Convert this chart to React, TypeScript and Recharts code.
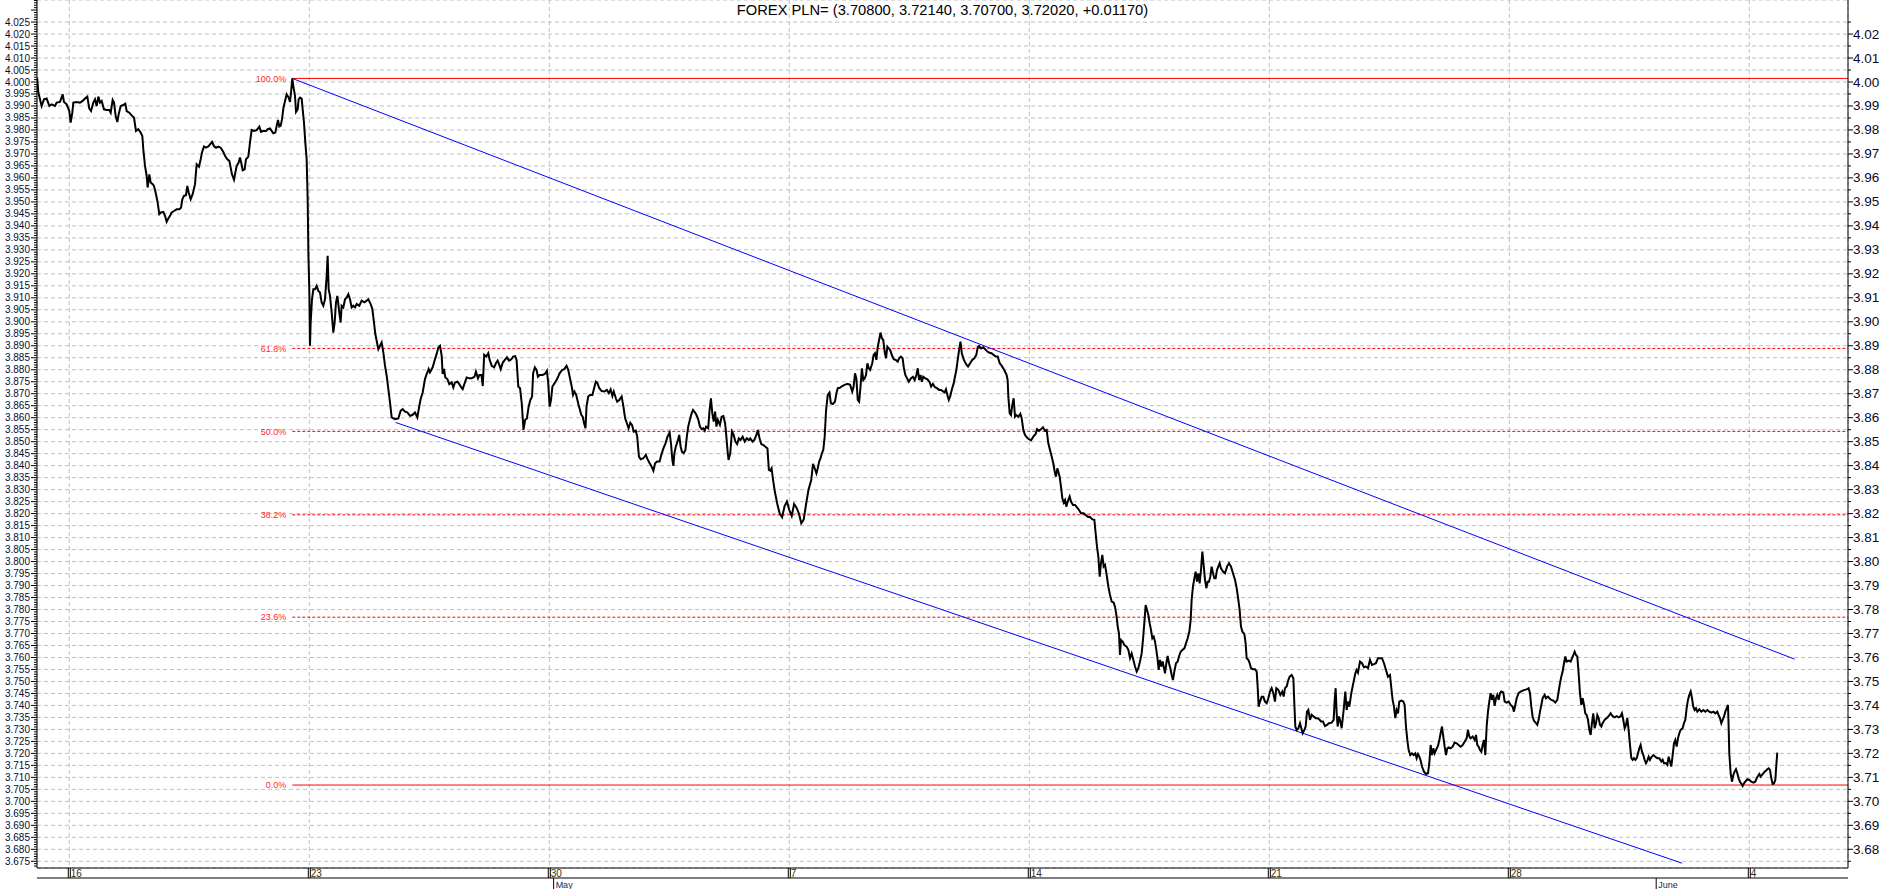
import { ComposedChart, Line, XAxis, YAxis, CartesianGrid, ReferenceLine } from 'recharts';

const FONT = '"Liberation Sans", Arial, Helvetica, sans-serif';

// x = trading days counted from the "16" gridline, y = USD/PLN
const weekApr13: [number, number][] = [
  [-0.67, 4.0018], [-0.645, 3.9956], [-0.576, 3.99], [-0.527, 3.9928], [-0.472, 3.9931], [-0.416, 3.99],
  [-0.368, 3.9907], [-0.298, 3.99], [-0.263, 3.9914], [-0.194, 3.9917], [-0.138, 3.9949], [-0.111, 3.9917],
  [-0.055, 3.9907],
];

const weekApr16: [number, number][] = [
  [0, 3.9879], [0.028, 3.9831], [0.063, 3.9872], [0.084, 3.9914], [0.153, 3.9917], [0.223, 3.9914],
  [0.278, 3.9921], [0.327, 3.9931], [0.375, 3.9939], [0.417, 3.9889], [0.452, 3.9879], [0.5, 3.9914],
  [0.535, 3.9928], [0.57, 3.99], [0.605, 3.9939], [0.639, 3.9914], [0.674, 3.9921], [0.723, 3.9886],
  [0.778, 3.9883], [0.834, 3.9883], [0.862, 3.9872], [0.903, 3.9925], [0.931, 3.9914], [0.966, 3.9858],
  [1.0, 3.9833], [1.028, 3.9865], [1.07, 3.99], [1.112, 3.9903], [1.167, 3.991], [1.195, 3.9879],
  [1.25, 3.9872], [1.299, 3.9861], [1.348, 3.9851], [1.389, 3.9796], [1.438, 3.9803], [1.487, 3.9789],
  [1.521, 3.9775], [1.542, 3.9719], [1.577, 3.965], [1.612, 3.9608], [1.632, 3.956], [1.667, 3.9615],
  [1.695, 3.9581], [1.737, 3.9574], [1.764, 3.9567], [1.806, 3.9532], [1.841, 3.9497], [1.875, 3.9449],
  [1.91, 3.9456], [1.959, 3.9458], [1.994, 3.9442], [2.028, 3.9417], [2.063, 3.9431], [2.098, 3.9442],
  [2.132, 3.9456], [2.181, 3.9462], [2.237, 3.9469], [2.292, 3.9469], [2.327, 3.9476], [2.355, 3.9511],
  [2.389, 3.9525], [2.431, 3.9528], [2.459, 3.9567], [2.487, 3.9539], [2.528, 3.9511], [2.57, 3.9532],
  [2.619, 3.9574], [2.653, 3.9657], [2.702, 3.9647], [2.737, 3.9678], [2.764, 3.9706], [2.806, 3.9731],
  [2.848, 3.9726], [2.896, 3.9731], [2.931, 3.974], [2.973, 3.975], [3.014, 3.9733], [3.056, 3.9726],
  [3.105, 3.9731], [3.153, 3.9726], [3.209, 3.9708], [3.244, 3.9692], [3.292, 3.9678], [3.334, 3.9671],
  [3.362, 3.9643], [3.389, 3.9615], [3.431, 3.9592], [3.459, 3.9622], [3.487, 3.965], [3.528, 3.9664],
  [3.556, 3.9685], [3.584, 3.9661], [3.612, 3.9632], [3.653, 3.9636], [3.681, 3.9678], [3.73, 3.9689],
  [3.764, 3.9747], [3.799, 3.98], [3.848, 3.9796], [3.903, 3.9799], [3.959, 3.9814], [3.994, 3.9792],
  [4.042, 3.9796], [4.098, 3.9796], [4.133, 3.9803], [4.181, 3.9806], [4.216, 3.9796], [4.25, 3.9786],
  [4.292, 3.9789], [4.32, 3.9817], [4.348, 3.9842], [4.375, 3.9814], [4.403, 3.9817], [4.431, 3.9844],
  [4.459, 3.9889], [4.494, 3.9921], [4.528, 3.9949], [4.57, 3.9935], [4.598, 3.9917], [4.619, 3.9956],
  [4.646, 4.0015], [4.667, 3.9983], [4.702, 3.9942], [4.723, 3.9875], [4.758, 3.9886], [4.778, 3.9928],
  [4.806, 3.9935], [4.841, 3.9931], [4.862, 3.9886], [4.889, 3.9831], [4.917, 3.9747], [4.945, 3.9678],
  [4.966, 3.9511], [4.98, 3.9289],
];

const weekApr23: [number, number][] = [
  [5.001, 3.9122], [5.014, 3.89], [5.028, 3.8997], [5.056, 3.9094], [5.084, 3.9136], [5.119, 3.9136],
  [5.153, 3.915], [5.188, 3.9129], [5.223, 3.9122], [5.257, 3.9081], [5.292, 3.9067], [5.327, 3.9094],
  [5.362, 3.9192], [5.382, 3.9275], [5.403, 3.9136], [5.431, 3.9108], [5.466, 3.9039], [5.5, 3.8955],
  [5.528, 3.8997], [5.556, 3.9081], [5.584, 3.9108], [5.625, 3.9039], [5.653, 3.8997], [5.674, 3.9067],
  [5.709, 3.906], [5.744, 3.9094], [5.778, 3.9101], [5.813, 3.9115], [5.848, 3.9094], [5.882, 3.906],
  [5.917, 3.9067], [5.952, 3.906], [5.987, 3.9074], [6.042, 3.9067], [6.091, 3.9088], [6.146, 3.9081],
  [6.195, 3.9088], [6.23, 3.9094], [6.278, 3.9074], [6.313, 3.9053], [6.348, 3.8997], [6.375, 3.8949],
  [6.403, 3.8921], [6.438, 3.8886], [6.473, 3.89], [6.507, 3.8914], [6.542, 3.8872], [6.577, 3.8817],
  [6.612, 3.8775], [6.646, 3.872], [6.681, 3.8664], [6.716, 3.8601], [6.785, 3.8594], [6.855, 3.8597],
  [6.903, 3.8629], [6.945, 3.8636], [6.994, 3.8625], [7.042, 3.8622], [7.098, 3.8608], [7.147, 3.8611],
  [7.202, 3.8622], [7.25, 3.8601], [7.292, 3.865], [7.32, 3.8678], [7.362, 3.8705], [7.41, 3.8761],
  [7.445, 3.8782], [7.487, 3.8803], [7.514, 3.8789], [7.57, 3.881], [7.619, 3.8845], [7.653, 3.8866],
  [7.688, 3.8893], [7.723, 3.89], [7.758, 3.8858], [7.778, 3.8782], [7.806, 3.8803], [7.834, 3.8768],
  [7.876, 3.8761], [7.917, 3.874], [7.966, 3.8747], [8.0, 3.8726], [8.035, 3.8747], [8.084, 3.875],
  [8.125, 3.874], [8.167, 3.8726], [8.195, 3.8719], [8.243, 3.8747], [8.278, 3.8768], [8.334, 3.8764],
  [8.385, 3.8764], [8.442, 3.8771], [8.471, 3.8792], [8.514, 3.8764], [8.542, 3.8778], [8.586, 3.8778],
  [8.614, 3.8732], [8.643, 3.8862], [8.686, 3.8855], [8.729, 3.8869], [8.758, 3.8841], [8.801, 3.8816],
  [8.851, 3.881], [8.887, 3.8827], [8.923, 3.8838], [8.959, 3.882], [8.988, 3.8802], [9.031, 3.883],
  [9.074, 3.8841], [9.117, 3.8852], [9.16, 3.8838], [9.21, 3.8844], [9.246, 3.8855], [9.289, 3.8857],
  [9.318, 3.8841], [9.354, 3.873], [9.39, 3.8723], [9.426, 3.866], [9.462, 3.8549], [9.497, 3.8591],
  [9.533, 3.8597], [9.569, 3.8646], [9.605, 3.8674], [9.641, 3.8688], [9.663, 3.8785], [9.698, 3.881],
  [9.734, 3.8799], [9.763, 3.8771], [9.799, 3.8778], [9.856, 3.8778], [9.907, 3.8782], [9.95, 3.8796],
  [9.978, 3.8743],
];

const weekApr30: [number, number][] = [
  [10.007, 3.8646], [10.036, 3.8674], [10.065, 3.873], [10.108, 3.8743], [10.158, 3.876], [10.215, 3.8785],
  [10.266, 3.8799], [10.309, 3.8802], [10.359, 3.8816], [10.395, 3.8799], [10.431, 3.8764], [10.467, 3.873],
  [10.495, 3.8695], [10.524, 3.8709], [10.56, 3.8695], [10.61, 3.8653], [10.668, 3.8611], [10.696, 3.8604],
  [10.725, 3.8577], [10.754, 3.8556], [10.775, 3.8646], [10.811, 3.8688], [10.847, 3.8695], [10.898, 3.8695],
  [10.933, 3.8723], [10.969, 3.875], [10.998, 3.8746], [11.041, 3.8723], [11.091, 3.8711], [11.149, 3.8709],
  [11.199, 3.8716], [11.242, 3.8702], [11.278, 3.8718], [11.314, 3.869], [11.343, 3.8709], [11.386, 3.8681],
  [11.414, 3.8667], [11.458, 3.8674], [11.508, 3.8688], [11.544, 3.8646], [11.58, 3.8597], [11.616, 3.8577],
  [11.651, 3.8556], [11.687, 3.8579], [11.723, 3.857], [11.759, 3.8542], [11.802, 3.8546], [11.831, 3.8521],
  [11.867, 3.8438], [11.903, 3.8427], [11.96, 3.8431], [12.01, 3.8445], [12.046, 3.8427], [12.082, 3.8413],
  [12.132, 3.8396], [12.168, 3.8379], [12.204, 3.841], [12.247, 3.8417], [12.298, 3.8417], [12.334, 3.8445],
  [12.377, 3.8472], [12.42, 3.8493], [12.463, 3.8521], [12.506, 3.8538], [12.535, 3.8493], [12.563, 3.8424],
  [12.585, 3.8399], [12.606, 3.8452], [12.635, 3.8479], [12.671, 3.85], [12.707, 3.8528], [12.736, 3.8479],
  [12.764, 3.8458], [12.8, 3.8452], [12.836, 3.8465], [12.865, 3.8521], [12.894, 3.8563], [12.929, 3.8591],
  [12.965, 3.8618], [12.994, 3.8632], [13.037, 3.8621], [13.066, 3.8611], [13.102, 3.8593], [13.138, 3.8563],
  [13.174, 3.8552], [13.209, 3.8556], [13.238, 3.8546], [13.267, 3.8563], [13.31, 3.8556], [13.339, 3.8632],
  [13.367, 3.8681], [13.396, 3.8618], [13.425, 3.8584], [13.454, 3.8625], [13.482, 3.8563], [13.511, 3.8591],
  [13.554, 3.857], [13.59, 3.8604], [13.626, 3.8607], [13.662, 3.8577], [13.683, 3.8535], [13.712, 3.8465],
  [13.734, 3.8424], [13.77, 3.8452], [13.805, 3.8542], [13.841, 3.8528], [13.877, 3.85], [13.913, 3.849],
  [13.949, 3.8514], [13.985, 3.8507], [14.028, 3.8521], [14.071, 3.85], [14.114, 3.8514], [14.157, 3.8507],
  [14.186, 3.8514], [14.236, 3.85], [14.272, 3.8507], [14.315, 3.8528], [14.344, 3.8549], [14.38, 3.8514],
  [14.416, 3.849], [14.459, 3.8486], [14.502, 3.8479], [14.545, 3.8472], [14.574, 3.8382], [14.602, 3.8379],
  [14.631, 3.8389], [14.66, 3.8343], [14.7, 3.829], [14.75, 3.824], [14.8, 3.82], [14.85, 3.8185],
  [14.9, 3.823], [14.95, 3.825],
];

const weekMay07: [number, number][] = [
  [15.0, 3.8215], [15.05, 3.819], [15.1, 3.824], [15.15, 3.8225], [15.2, 3.82], [15.25, 3.816],
  [15.3, 3.8175], [15.35, 3.824], [15.4, 3.83], [15.457, 3.834], [15.493, 3.8407], [15.529, 3.8389],
  [15.565, 3.8368], [15.593, 3.8389], [15.622, 3.8417], [15.651, 3.8431], [15.679, 3.8452], [15.708, 3.8465],
  [15.737, 3.8521], [15.766, 3.8632], [15.801, 3.8695], [15.837, 3.8705], [15.866, 3.866], [15.909, 3.8657],
  [15.952, 3.8667], [15.981, 3.8702], [16.01, 3.8723], [16.053, 3.8725], [16.103, 3.8732], [16.153, 3.8737],
  [16.211, 3.8741], [16.268, 3.8737], [16.311, 3.8709], [16.34, 3.873], [16.369, 3.8785], [16.397, 3.8764],
  [16.426, 3.8674], [16.455, 3.8667], [16.484, 3.873], [16.512, 3.8806], [16.541, 3.8757], [16.57, 3.8764],
  [16.598, 3.8778], [16.627, 3.8827], [16.656, 3.8806], [16.684, 3.8799], [16.728, 3.8827], [16.756, 3.8862],
  [16.785, 3.8869], [16.814, 3.8841], [16.843, 3.8896], [16.871, 3.8924], [16.9, 3.8955], [16.929, 3.8931],
  [16.957, 3.8924], [16.986, 3.8876], [17.015, 3.8848], [17.043, 3.8896], [17.072, 3.8889], [17.101, 3.8882],
  [17.144, 3.8857], [17.18, 3.8843], [17.216, 3.8841], [17.259, 3.8834], [17.288, 3.8848], [17.324, 3.8855],
  [17.36, 3.8848], [17.388, 3.8806], [17.417, 3.8778], [17.453, 3.8764], [17.489, 3.875], [17.532, 3.8764],
  [17.575, 3.8771], [17.611, 3.8757], [17.647, 3.8778], [17.676, 3.8806], [17.704, 3.8757], [17.733, 3.8778],
  [17.762, 3.875], [17.79, 3.8771], [17.834, 3.8764], [17.877, 3.876], [17.92, 3.875], [17.955, 3.873],
  [17.991, 3.8741], [18.034, 3.8727], [18.077, 3.8723], [18.12, 3.8716], [18.164, 3.8716], [18.207, 3.8709],
  [18.235, 3.8705], [18.264, 3.8718], [18.293, 3.8695], [18.322, 3.8674], [18.35, 3.8688], [18.393, 3.8723],
  [18.422, 3.8741], [18.451, 3.8771], [18.48, 3.8799], [18.508, 3.8841], [18.537, 3.8882], [18.566, 3.8917],
  [18.594, 3.8869], [18.637, 3.8841], [18.68, 3.8824], [18.724, 3.8813], [18.767, 3.8827], [18.81, 3.8841],
  [18.853, 3.8848], [18.896, 3.8862], [18.925, 3.8894], [18.953, 3.8899], [18.997, 3.8889], [19.04, 3.8894],
  [19.083, 3.8885], [19.126, 3.8876], [19.169, 3.8871], [19.212, 3.8869], [19.255, 3.8862], [19.298, 3.8855],
  [19.341, 3.8855], [19.384, 3.8827], [19.427, 3.8816], [19.478, 3.8799], [19.528, 3.8778], [19.549, 3.8757],
  [19.563, 3.8688], [19.591, 3.8618], [19.618, 3.8611], [19.646, 3.8653], [19.674, 3.8681], [19.702, 3.8604],
  [19.73, 3.8611], [19.771, 3.8604], [19.813, 3.8616], [19.841, 3.8598], [19.875, 3.8549], [19.91, 3.8528],
  [19.966, 3.8514],
];

const weekMay14: [number, number][] = [
  [20.035, 3.8505], [20.084, 3.8521], [20.132, 3.8532], [20.16, 3.8552], [20.202, 3.8546], [20.243, 3.8552],
  [20.285, 3.856], [20.327, 3.8546], [20.361, 3.8549], [20.396, 3.8493], [20.431, 3.8465], [20.466, 3.8438],
  [20.5, 3.841], [20.535, 3.8368], [20.556, 3.8354], [20.584, 3.8389], [20.605, 3.8375], [20.632, 3.8354],
  [20.66, 3.8313], [20.688, 3.8264], [20.716, 3.8246], [20.744, 3.8257], [20.771, 3.8229], [20.799, 3.825],
  [20.841, 3.8271], [20.868, 3.825], [20.91, 3.8236], [20.952, 3.8236], [20.993, 3.8226], [21.035, 3.8215],
  [21.077, 3.8201], [21.132, 3.8201], [21.174, 3.8194], [21.216, 3.8187], [21.271, 3.8185], [21.313, 3.8176],
  [21.355, 3.8174], [21.382, 3.8118], [21.41, 3.8062], [21.438, 3.8021], [21.466, 3.7937], [21.493, 3.7993],
  [21.521, 3.8028], [21.549, 3.7979], [21.577, 3.7986], [21.612, 3.7944], [21.646, 3.7896], [21.681, 3.7861],
  [21.716, 3.7833], [21.757, 3.7829], [21.785, 3.7812], [21.82, 3.777], [21.841, 3.7729], [21.868, 3.7701],
  [21.889, 3.7611], [21.91, 3.7673], [21.945, 3.7666], [21.98, 3.7652], [22.028, 3.7645], [22.063, 3.7632],
  [22.098, 3.7597], [22.132, 3.7617], [22.167, 3.759], [22.202, 3.7562], [22.237, 3.7541], [22.271, 3.7555],
  [22.306, 3.7583], [22.341, 3.7617], [22.368, 3.7673], [22.396, 3.7743], [22.424, 3.7819], [22.452, 3.7798],
  [22.48, 3.7777], [22.507, 3.7743], [22.535, 3.7715], [22.563, 3.768], [22.591, 3.7687], [22.619, 3.7666],
  [22.646, 3.7632], [22.674, 3.759], [22.695, 3.7548], [22.723, 3.759], [22.751, 3.7562], [22.778, 3.7583],
  [22.806, 3.7555], [22.827, 3.7534], [22.855, 3.7576], [22.882, 3.7606], [22.91, 3.7576], [22.938, 3.7555],
  [22.966, 3.7527], [22.993, 3.7506], [23.021, 3.7541], [23.056, 3.7576], [23.091, 3.7583], [23.118, 3.7604],
  [23.153, 3.7624], [23.188, 3.7631], [23.23, 3.7638], [23.264, 3.7659], [23.299, 3.768], [23.334, 3.7708],
  [23.362, 3.7757], [23.382, 3.784], [23.41, 3.7896], [23.438, 3.793], [23.466, 3.7958], [23.493, 3.7916],
  [23.521, 3.7951], [23.549, 3.7909], [23.577, 3.7965], [23.605, 3.8042], [23.632, 3.7986], [23.66, 3.7924],
  [23.688, 3.7889], [23.716, 3.7916], [23.743, 3.7916], [23.771, 3.7937], [23.799, 3.7979], [23.827, 3.7951],
  [23.855, 3.793], [23.882, 3.793], [23.91, 3.7965], [23.938, 3.7979], [23.966, 3.7993], [23.993, 3.7972],
  [24.035, 3.7958], [24.077, 3.7951], [24.119, 3.7979], [24.16, 3.7993], [24.202, 3.7979], [24.243, 3.7951],
  [24.285, 3.7924], [24.32, 3.7889], [24.355, 3.784], [24.382, 3.7798], [24.41, 3.7729], [24.438, 3.7708],
  [24.48, 3.7698], [24.507, 3.7659], [24.528, 3.7597], [24.563, 3.759], [24.591, 3.7576], [24.619, 3.7555],
  [24.66, 3.7551], [24.702, 3.7551], [24.737, 3.7541], [24.757, 3.7479], [24.778, 3.7395], [24.806, 3.7416],
  [24.841, 3.7436], [24.875, 3.7436], [24.91, 3.7416], [24.945, 3.7409], [24.98, 3.743],
];

const weekMay21: [number, number][] = [
  [25.014, 3.7458], [25.049, 3.7472], [25.084, 3.7451], [25.118, 3.7416], [25.146, 3.7472], [25.188, 3.7465],
  [25.23, 3.7444], [25.271, 3.7458], [25.299, 3.7437], [25.327, 3.7472], [25.362, 3.7479], [25.396, 3.7506],
  [25.424, 3.752], [25.466, 3.7527], [25.501, 3.7513], [25.521, 3.7409], [25.542, 3.7312], [25.57, 3.7298],
  [25.605, 3.7305], [25.639, 3.7326], [25.667, 3.7305], [25.695, 3.7284], [25.73, 3.7298], [25.757, 3.7312],
  [25.785, 3.7374], [25.813, 3.7381], [25.848, 3.734], [25.882, 3.7361], [25.924, 3.7354], [25.966, 3.7347],
  [26.007, 3.7347], [26.049, 3.734], [26.077, 3.7333], [26.118, 3.7333], [26.16, 3.7314], [26.202, 3.7319],
  [26.243, 3.7326], [26.299, 3.7328], [26.341, 3.734], [26.362, 3.7423], [26.382, 3.7472], [26.403, 3.7368],
  [26.424, 3.7312], [26.452, 3.7354], [26.48, 3.7333], [26.507, 3.7305], [26.549, 3.7381], [26.583, 3.7458],
  [26.611, 3.7381], [26.639, 3.7416], [26.667, 3.7395], [26.708, 3.7451], [26.75, 3.7493], [26.792, 3.7534],
  [26.819, 3.7548], [26.847, 3.7537], [26.889, 3.7583], [26.931, 3.7576], [26.972, 3.7559], [27.014, 3.7562],
  [27.056, 3.7555], [27.097, 3.759], [27.139, 3.7569], [27.181, 3.7572], [27.222, 3.7576], [27.264, 3.7597],
  [27.306, 3.7597], [27.347, 3.7597], [27.389, 3.7576], [27.431, 3.7548], [27.472, 3.752], [27.514, 3.7527],
  [27.542, 3.7472], [27.569, 3.7423], [27.597, 3.7395], [27.625, 3.7347], [27.653, 3.7381], [27.681, 3.7367],
  [27.708, 3.7416], [27.75, 3.742], [27.792, 3.7416], [27.819, 3.7402], [27.847, 3.7312], [27.875, 3.7256],
  [27.903, 3.7214], [27.937, 3.7193], [27.972, 3.72], [28.007, 3.7193], [28.042, 3.72], [28.069, 3.718],
  [28.097, 3.7197], [28.125, 3.7186], [28.153, 3.717], [28.181, 3.7145], [28.222, 3.7124], [28.264, 3.7114],
  [28.306, 3.7117], [28.333, 3.7159], [28.361, 3.7235], [28.389, 3.7193], [28.417, 3.7221], [28.444, 3.72],
  [28.472, 3.7214], [28.514, 3.7231], [28.542, 3.7256], [28.569, 3.7284], [28.597, 3.7312], [28.625, 3.727],
  [28.653, 3.7228], [28.681, 3.7193], [28.708, 3.7221], [28.736, 3.7225], [28.778, 3.7221], [28.819, 3.7228],
  [28.861, 3.7245], [28.903, 3.7242], [28.944, 3.7235], [28.986, 3.7228], [29.028, 3.7235], [29.069, 3.7249],
  [29.111, 3.7263], [29.139, 3.7298], [29.167, 3.727], [29.194, 3.7263], [29.236, 3.727], [29.278, 3.7256],
  [29.306, 3.7277], [29.333, 3.7235], [29.361, 3.7228], [29.389, 3.7214], [29.417, 3.7207], [29.444, 3.7235],
  [29.472, 3.7256], [29.5, 3.7193], [29.528, 3.7312], [29.556, 3.7375], [29.583, 3.7416], [29.611, 3.7451],
  [29.639, 3.7423], [29.667, 3.7444], [29.694, 3.7398], [29.722, 3.743], [29.75, 3.7444], [29.778, 3.7423],
  [29.806, 3.7451], [29.833, 3.7458], [29.875, 3.7454], [29.903, 3.7416], [29.944, 3.7412], [29.986, 3.7416],
];

const weekMay28: [number, number][] = [
  [30.028, 3.7402], [30.069, 3.7395], [30.097, 3.7374], [30.125, 3.7402], [30.153, 3.743], [30.194, 3.7451],
  [30.236, 3.7458], [30.278, 3.7462], [30.319, 3.7465], [30.361, 3.7467], [30.403, 3.7472], [30.431, 3.7451],
  [30.458, 3.7395], [30.486, 3.7353], [30.514, 3.7336], [30.556, 3.7326], [30.583, 3.7319], [30.611, 3.734],
  [30.639, 3.7374], [30.667, 3.7402], [30.694, 3.743], [30.736, 3.7444], [30.764, 3.743], [30.806, 3.7437],
  [30.833, 3.743], [30.875, 3.7423], [30.917, 3.742], [30.958, 3.7412], [31.0, 3.7423], [31.028, 3.7458],
  [31.056, 3.7493], [31.083, 3.752], [31.111, 3.7541], [31.139, 3.7576], [31.167, 3.7604], [31.194, 3.7583],
  [31.236, 3.7587], [31.278, 3.7583], [31.306, 3.7597], [31.333, 3.761], [31.361, 3.7624], [31.389, 3.761],
  [31.417, 3.7604], [31.444, 3.7534], [31.472, 3.7451], [31.5, 3.7402], [31.528, 3.743], [31.556, 3.7402],
  [31.583, 3.7367], [31.611, 3.736], [31.639, 3.734], [31.667, 3.7298], [31.694, 3.7277], [31.722, 3.7326],
  [31.75, 3.7367], [31.778, 3.7305], [31.806, 3.7326], [31.833, 3.736], [31.861, 3.7347], [31.889, 3.7319],
  [31.917, 3.7312], [31.944, 3.7326], [31.986, 3.734], [32.028, 3.7347], [32.069, 3.7355], [32.111, 3.7367],
  [32.153, 3.7355], [32.194, 3.735], [32.236, 3.7355], [32.278, 3.735], [32.319, 3.7355], [32.347, 3.7367],
  [32.375, 3.734], [32.403, 3.7305], [32.431, 3.7319], [32.458, 3.7347], [32.486, 3.7298], [32.514, 3.7235],
  [32.542, 3.718], [32.569, 3.7173], [32.597, 3.718], [32.625, 3.7173], [32.653, 3.718], [32.681, 3.72],
  [32.708, 3.7221], [32.736, 3.7235], [32.764, 3.7207], [32.792, 3.7193], [32.819, 3.7173], [32.847, 3.7159],
  [32.875, 3.717], [32.903, 3.7186], [32.931, 3.7173], [32.958, 3.7184], [33.0, 3.7193], [33.042, 3.7186],
  [33.083, 3.718], [33.125, 3.718], [33.167, 3.7166], [33.194, 3.7173], [33.222, 3.7159], [33.264, 3.7159],
  [33.292, 3.7152], [33.319, 3.7186], [33.347, 3.7166], [33.375, 3.7145], [33.403, 3.7193], [33.431, 3.7242],
  [33.458, 3.7256], [33.486, 3.7228], [33.514, 3.7263], [33.542, 3.7284], [33.569, 3.7298], [33.611, 3.7305],
  [33.639, 3.7326], [33.667, 3.734], [33.694, 3.7388], [33.722, 3.7423], [33.75, 3.7444], [33.778, 3.7458],
  [33.806, 3.743], [33.833, 3.7395], [33.861, 3.7381], [33.889, 3.7388], [33.917, 3.7374], [33.958, 3.7384],
  [34.0, 3.7374], [34.042, 3.7381], [34.083, 3.7374], [34.125, 3.7381], [34.167, 3.7374], [34.208, 3.737],
  [34.25, 3.7374], [34.292, 3.7367], [34.333, 3.7374], [34.361, 3.736], [34.389, 3.7347], [34.417, 3.7326],
  [34.444, 3.734], [34.472, 3.7353], [34.5, 3.7374], [34.528, 3.7388], [34.556, 3.7402], [34.569, 3.7312],
  [34.583, 3.72], [34.611, 3.7117], [34.639, 3.7082], [34.667, 3.711], [34.694, 3.7124], [34.722, 3.7134],
  [34.75, 3.7117], [34.778, 3.7096], [34.806, 3.7082], [34.833, 3.7073], [34.861, 3.7064], [34.889, 3.7075],
  [34.917, 3.7082], [34.958, 3.7092],
];

const weekJun04: [number, number][] = [
  [35.0, 3.7089], [35.042, 3.7082], [35.083, 3.7078], [35.125, 3.7082], [35.153, 3.7096], [35.181, 3.7106],
  [35.208, 3.7114], [35.236, 3.7103], [35.264, 3.711], [35.292, 3.7117], [35.319, 3.7124], [35.347, 3.7128],
  [35.375, 3.7134], [35.403, 3.7138], [35.431, 3.7131], [35.458, 3.7096], [35.486, 3.7073], [35.514, 3.7075],
  [35.542, 3.7089], [35.563, 3.7152], [35.583, 3.7203],
];

const weekTicks = [0, 5, 10, 15, 20, 25, 30, 35];
const weekLabels = ['16', '23', '30', '7', '14', '21', '28', '4'];
const monthTicks = [10.09, 33.06];
const monthLabels = ['May', 'June'];

const fibLevels = [4.0015, 3.8889, 3.8543, 3.8195, 3.7768, 3.7068];
const fibLabels = ['100.0%', '61.8%', '50.0%', '38.2%', '23.6%', '0.0%'];
const fibStart = 4.646;

const upperChannel = [{ x: 4.646, y: 4.0015 }, { x: 35.944, y: 3.7593 }];
const lowerChannel = [{ x: 6.8, y: 3.858 }, { x: 33.6, y: 3.6742 }];

const X_DOMAIN: [number, number] = [-0.673, 37.056];
const Y_DOMAIN: [number, number] = [3.6722, 4.0342];

const leftTicks = Array.from({ length: 4034 - 3673 + 1 }, (_, i) => (3673 + i) / 1000);
const rightTicks = Array.from({ length: (4025 - 3675) / 5 + 1 }, (_, i) => (3675 + 5 * i) / 1000);

const series = [
  ...weekApr13, ...weekApr16, ...weekApr23, ...weekApr30, ...weekMay07,
  ...weekMay14, ...weekMay21, ...weekMay28, ...weekJun04,
].map(([t, v]) => ({ t, v }));

const LeftTick = (props: any) => {
  const { x, y, payload } = props;
  const k = Math.round(payload.value * 1000);
  const major = k % 5 === 0;
  return (
    <g>
      <line x1={x - (major ? 6 : 3)} x2={x} y1={y} y2={y} stroke="#000" />
      {major && k <= 4025 && (
        <text x={x - 7} y={y} dy={3.5} textAnchor="end" fontSize={10} fill="#0a0a2a" fontFamily={FONT}>
          {payload.value.toFixed(3)}
        </text>
      )}
    </g>
  );
};

const RightTick = (props: any) => {
  const { x, y, payload } = props;
  const k = Math.round(payload.value * 1000);
  const major = k % 10 === 0;
  return (
    <g>
      <line x1={x} x2={x + (major ? 5 : 3)} y1={y} y2={y} stroke="#000" />
      {major && (
        <text x={x + 5} y={y} dy={4.5} textAnchor="start" fontSize={13.5} fill="#0a0a2a" fontFamily={FONT}>
          {payload.value.toFixed(2)}
        </text>
      )}
    </g>
  );
};

const WeekTick = (props: any) => {
  const { x, y, payload, index } = props;
  return (
    <g>
      <line x1={x - 1} x2={x - 1} y1={y} y2={y + 10} stroke="#000" />
      <line x1={x + 1} x2={x + 1} y1={y} y2={y + 10} stroke="#000" />
      <text x={x + 1.5} y={y + 9} fontSize={10} fill="#3a2a10" fontFamily={FONT}>
        {weekLabels[index] ?? String(payload.value)}
      </text>
    </g>
  );
};

const MonthTick = (props: any) => {
  const { x, y, index } = props;
  return (
    <g>
      <line x1={x} x2={x} y1={y} y2={y + 11} stroke="#000" />
      <text x={x + 2} y={y + 9.5} fontSize={9} fill="#1a2a4a" fontFamily={FONT}>
        {monthLabels[index]}
      </text>
    </g>
  );
};

export default function App() {
  return (
    <div style={{ position: 'absolute', left: 0, top: 0, width: 1883, height: 889, background: '#fff' }}>
      <ComposedChart width={1883} height={889} data={series} margin={{ top: 0, right: 0, bottom: 0, left: 0 }}>
        <CartesianGrid yAxisId="right" stroke="#c0c0c0" strokeDasharray="4 3" />
        <XAxis
          dataKey="t"
          type="number"
          domain={X_DOMAIN}
          allowDataOverflow
          ticks={weekTicks}
          interval={0}
          height={10}
          tickSize={0}
          tickMargin={0}
          tickLine={false}
          axisLine={{ stroke: '#000' }}
          tick={<WeekTick />}
        />
        <XAxis
          xAxisId="month"
          dataKey="t"
          type="number"
          domain={X_DOMAIN}
          allowDataOverflow
          ticks={monthTicks}
          interval={0}
          height={11}
          tickSize={0}
          tickMargin={0}
          tickLine={false}
          axisLine={{ stroke: '#000' }}
          tick={<MonthTick />}
        />
        <YAxis
          yAxisId="left"
          orientation="left"
          type="number"
          domain={Y_DOMAIN}
          allowDataOverflow
          ticks={leftTicks}
          interval={0}
          width={37}
          tickSize={0}
          tickMargin={0}
          tickLine={false}
          axisLine={{ stroke: '#000' }}
          tick={<LeftTick />}
        />
        <YAxis
          yAxisId="right"
          orientation="right"
          type="number"
          domain={Y_DOMAIN}
          allowDataOverflow
          ticks={rightTicks}
          interval={0}
          width={35}
          tickSize={0}
          tickMargin={0}
          tickLine={false}
          axisLine={{ stroke: '#000' }}
          tick={<RightTick />}
        />
        {fibLevels.map((lv, i) => (
          <ReferenceLine
            key={fibLabels[i]}
            yAxisId="left"
            segment={[{ x: fibStart, y: lv }, { x: X_DOMAIN[1], y: lv }]}
            stroke="#ff0000"
            strokeWidth={1}
            strokeDasharray={i === 0 || i === fibLevels.length - 1 ? undefined : '3 2'}
            label={{ value: fibLabels[i], position: 'left', offset: 6, fill: '#ff2a2a', fontSize: 9, fontFamily: FONT }}
          />
        ))}
        <ReferenceLine yAxisId="left" segment={upperChannel} stroke="#0000ff" strokeWidth={1} />
        <ReferenceLine yAxisId="left" segment={lowerChannel} stroke="#0000ff" strokeWidth={1} />
        <Line
          yAxisId="left"
          dataKey="v"
          type="linear"
          stroke="#000"
          strokeWidth={2}
          dot={false}
          activeDot={false}
          isAnimationActive={false}
        />
      </ComposedChart>
      <div
        style={{
          position: 'absolute',
          left: 37,
          width: 1811,
          top: 2,
          textAlign: 'center',
          fontFamily: FONT,
          fontSize: 14.7,
          lineHeight: '16px',
          color: '#000',
        }}
      >
        FOREX PLN= (3.70800, 3.72140, 3.70700, 3.72020, +0.01170)
      </div>
    </div>
  );
}
